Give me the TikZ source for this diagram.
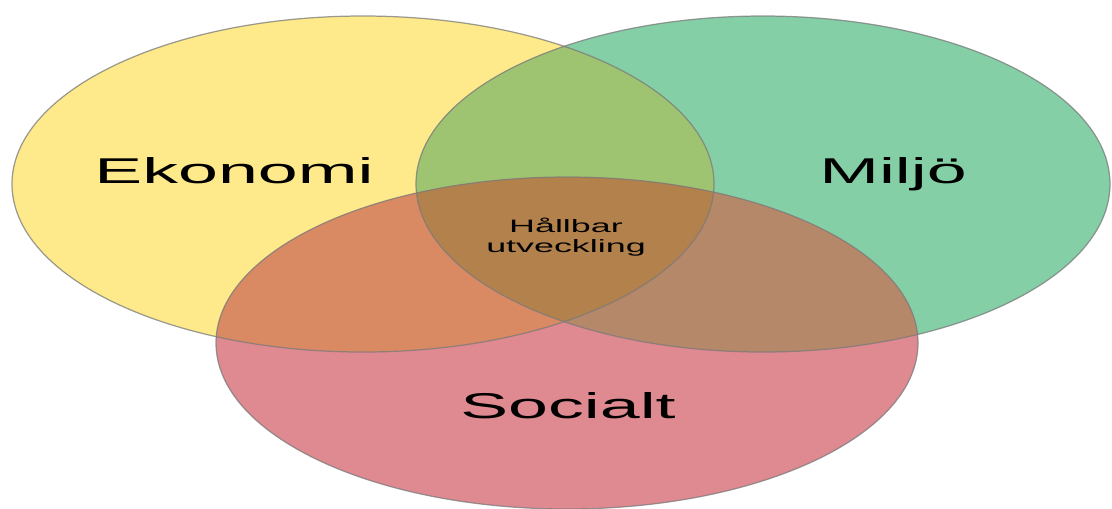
\documentclass[tikz,border=0pt]{standalone}
\usepackage{fontspec}
\setmainfont{Liberation Sans}
\usepackage{tikz}
\usepackage{color}

\definecolor{ekoyellow}{HTML}{FEEA8A}
\definecolor{miljogreen}{HTML}{84CFA5}
\definecolor{socred}{HTML}{DF8990}
\definecolor{ekomiljo}{HTML}{9FC471}
\definecolor{ekosoc}{HTML}{D98A63}
\definecolor{miljosoc}{HTML}{B6886A}
\definecolor{hallbar}{HTML}{B3814C}
\definecolor{rimgray}{HTML}{7A7A7A}

\newcommand{\ekopath}{(363,184) ellipse [x radius=351, y radius=168]}
\newcommand{\miljopath}{(763,184) ellipse [x radius=347, y radius=168]}
\newcommand{\socpath}{(567,343) ellipse [x radius=351, y radius=166]}

\begin{document}
\begin{tikzpicture}[x=0.01cm,y=-0.01cm,
    rim/.style={draw=rimgray, line width=0.35pt, draw opacity=0.75},
    bigtext/.style={inner sep=0pt, anchor=base, xscale=2,
        font=\fontsize{10.2}{12}\selectfont},
    smalltext/.style={inner sep=0pt, align=center, xscale=2,
        font=\fontsize{5.1}{5.7}\selectfont}]
            \useasboundingbox (0,0) rectangle (1112,508);
            % the three circles, seen squashed
            \fill [ekoyellow] \ekopath;
            \fill [miljogreen] \miljopath;
            \fill [socred] \socpath;
            % overlaps
            \begin{scope}
                \clip \ekopath;
                \fill [ekomiljo] \miljopath;
                \fill [ekosoc] \socpath;
            \end{scope}
            \begin{scope}
                \clip \miljopath;
                \fill [miljosoc] \socpath;
            \end{scope}
            \begin{scope}
                \clip \ekopath;
                \clip \miljopath;
                \fill [hallbar] \socpath;
            \end{scope}
            \draw [rim] \ekopath;
            \draw [rim] \miljopath;
            \draw [rim] \socpath;
            % labels
            \node [bigtext] (ekonomi) at (234,183) {Ekonomi};
            \node [bigtext] (miljo) at (893,183) {Miljö};
            \node [bigtext] (socialt) at (568,418) {Socialt};
            \node [smalltext] (mitten) at (566,237.5) {Hållbar\\utveckling};
\end{tikzpicture}
\end{document}
